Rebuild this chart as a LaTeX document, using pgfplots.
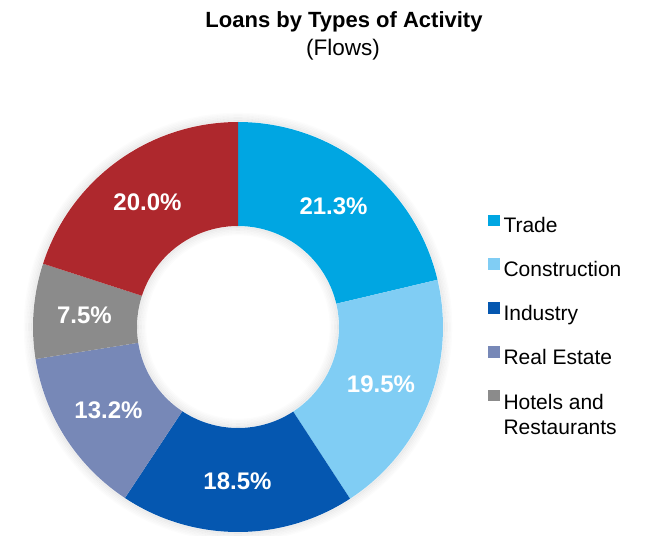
\documentclass[border=0pt]{standalone}
\usepackage{pgfplots}
\pgfplotsset{compat=1.18}
\usepackage{fontspec}
\setmainfont{Liberation Sans}
\definecolor{ctrade}{HTML}{00A6E2}
\definecolor{cconst}{HTML}{80CDF4}
\definecolor{cindus}{HTML}{0557B0}
\definecolor{creal}{HTML}{7788B7}
\definecolor{chotel}{HTML}{8B8B8B}
\definecolor{cother}{HTML}{AE282D}
% #1 cumulative start (%), #2 share (%), #3 plot options
\newcommand{\donutslice}[3]{%
  \addplot[#3, samples at={0,2,...,300}, variable=\t]
  ({(\t<150 ? 205 : 101)*cos(90-3.6*(#1+#2*(\t<150 ? min(\t,100) : min(300-\t,100))/100))},
   {(\t<150 ? 205 : 101)*sin(90-3.6*(#1+#2*(\t<150 ? min(\t,100) : min(300-\t,100))/100))});
}
\newcommand{\slicelabel}[2]{%
  \path (axis cs:0,0) ++({90-3.6*(#1+#2/2)}:154pt) node[text=white,font=\fontsize{24}{28}\selectfont\bfseries] {#2\%};
}
\newcommand{\shadowring}[2]{%
  \draw[black, opacity=#2, line width=1.6pt] (axis cs:0,0) circle[radius=#1pt];
}
\begin{document}
\begin{tikzpicture}
\begin{axis}[
  x=1pt, y=1pt,
  xmin=-238, xmax=409, ymin=-208, ymax=327,
  hide axis, clip=false,
  legend cell align=left,
  legend style={at={(0.75425,0.599)}, anchor=north west, draw=none, fill=none,
    inner sep=0pt, outer sep=0pt, row sep=24pt, column sep=4pt,
    font=\fontsize{21}{24.5}\selectfont, nodes={inner sep=0pt}},
  legend image code/.code={\fill[#1] (0pt,0pt) rectangle (11.5pt,11.5pt);},
]
% soft shadow
\shadowring{206}{0.07}
\shadowring{207.5}{0.055}
\shadowring{209}{0.042}
\shadowring{210.5}{0.032}
\shadowring{212}{0.022}
\shadowring{213.5}{0.013}
\shadowring{100}{0.07}
\shadowring{98.5}{0.055}
\shadowring{97}{0.042}
\shadowring{95.5}{0.032}
\shadowring{94}{0.022}
\shadowring{92.5}{0.013}

\donutslice{0}{21.3}{fill=ctrade, draw=none}
\addlegendentry{\rule[-5pt]{0pt}{20pt}Trade}
\donutslice{21.3}{19.5}{fill=cconst, draw=none}
\addlegendentry{\rule[-5pt]{0pt}{20pt}Construction}
\donutslice{40.8}{18.5}{fill=cindus, draw=none}
\addlegendentry{\rule[-5pt]{0pt}{20pt}Industry}
\donutslice{59.3}{13.2}{fill=creal, draw=none}
\addlegendentry{\rule[-5pt]{0pt}{20pt}Real Estate}
\donutslice{72.5}{7.5}{fill=chotel, draw=none}
\addlegendentry{\begin{tabular}[t]{@{}l@{}}\rule[-5pt]{0pt}{20pt}Hotels and\\[0.5pt]Restaurants\end{tabular}}
\donutslice{80.0}{20.0}{fill=cother, draw=none, forget plot}

\slicelabel{0}{21.3}
\slicelabel{21.3}{19.5}
\slicelabel{40.8}{18.5}
\slicelabel{59.3}{13.2}
\slicelabel{72.5}{7.5}
\slicelabel{80.0}{20.0}

\node[anchor=base, font=\fontsize{22}{26}\selectfont\bfseries] at (axis cs:106,299) {Loans by Types of Activity};
\node[anchor=base, font=\fontsize{22.5}{26}\selectfont] at (axis cs:105,271) {(Flows)};
\end{axis}
\pgfresetboundingbox
\path (current axis.south west) rectangle (current axis.north east);
\end{tikzpicture}
\end{document}
